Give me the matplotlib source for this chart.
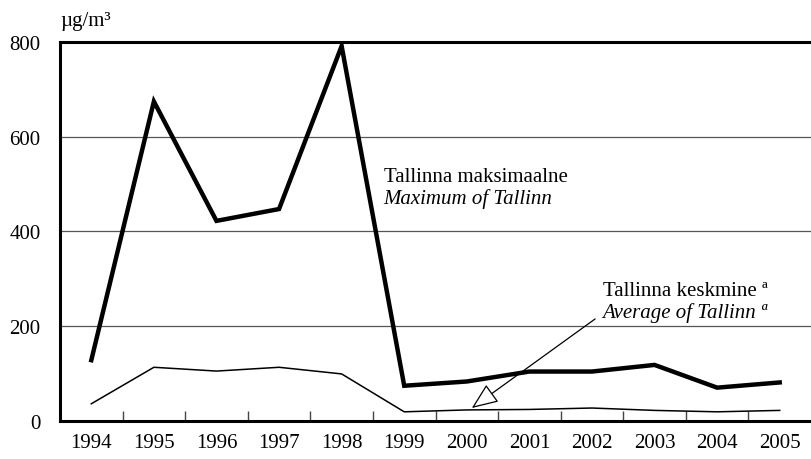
import matplotlib
matplotlib.use("Agg")
import matplotlib.pyplot as plt

years = ["1994", "1995", "1996", "1997", "1998", "1999",
         "2000", "2001", "2002", "2003", "2004", "2005"]
maximum = [128, 674, 422, 447, 791, 74, 83, 104, 104, 118, 70, 81]
average = [36, 113, 105, 113, 99, 19, 23, 24, 27, 22, 19, 22]

plt.rcParams['font.family'] = ['Liberation Serif', 'DejaVu Serif']
plt.rcParams['font.size'] = 15

fig = plt.figure(figsize=(8.11, 4.6), dpi=100)
ax = fig.add_axes([0.074, 0.083, 0.926, 0.824])

x = range(len(years))
ax.plot(x, maximum, color="black", lw=3.2, solid_joinstyle="miter")
ax.plot(x, average, color="black", lw=1.1)

ax.set_xlim(-0.5, len(years) - 0.5)
ax.set_ylim(0, 800)
ax.set_yticks([0, 200, 400, 600, 800])
ax.yaxis.grid(True, color="#555555", lw=0.9)
ax.set_axisbelow(True)

ax.set_xticks(list(x))
ax.set_xticklabels(years)
ax.set_xticks([i + 0.5 for i in range(len(years) - 1)], minor=True)
ax.tick_params(axis="x", which="major", length=0, pad=9)
ax.tick_params(axis="x", which="minor", direction="in", length=7, width=1, color="#444444")
ax.tick_params(axis="y", length=0, pad=14)

for s in ["left", "bottom", "top"]:
    ax.spines[s].set_linewidth(2.2)
ax.spines["right"].set_visible(False)

ax.text(-0.5, 825, "\u00b5g/m\u00b3", ha="left", va="bottom")

ax.text(4.67, 515, "Tallinna maksimaalne", ha="left", va="center")
ax.text(4.67, 470, "Maximum of Tallinn", ha="left", va="center", style="italic")

ax.text(8.17, 274, "Tallinna keskmine \u00aa", ha="left", va="center")
ax.text(8.17, 230, "Average of Tallinn \u00aa", ha="left", va="center", style="italic")

ax.annotate("", xy=(6.08, 27), xytext=(8.05, 215),
            arrowprops=dict(arrowstyle="-|>,head_length=1.1,head_width=0.45",
                            lw=0.9, color="black", fc="white",
                            shrinkA=0, shrinkB=0))

fig.savefig("out.png", dpi=100)
